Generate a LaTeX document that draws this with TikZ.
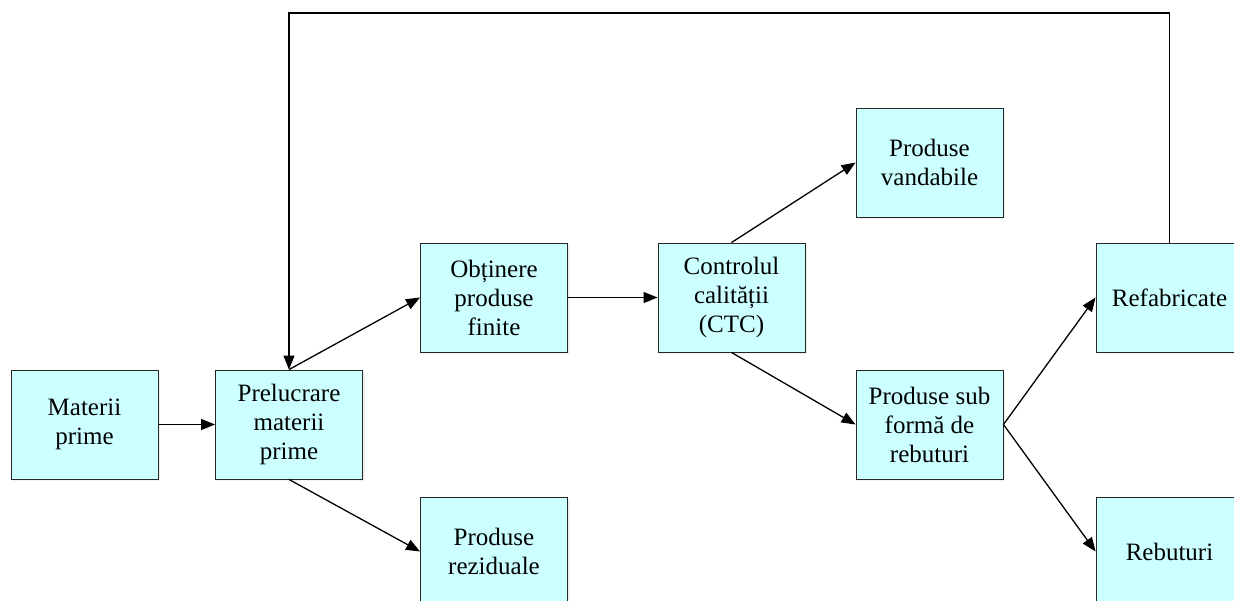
\documentclass[tikz,border=0pt]{standalone}
\usepackage{fontspec}
\setmainfont{Liberation Serif}
\usetikzlibrary{arrows.meta,shadows}
\definecolor{boxfill}{RGB}{204,255,255}
\tikzset{
  box/.style={draw=black!85, line width=0.9pt, fill=boxfill, minimum width=147pt, minimum height=109pt,
    inner sep=0pt, align=center, font=\fontsize{25}{29}\selectfont,
    drop shadow={opacity=0.12, shadow xshift=2pt, shadow yshift=-2pt}},
  arr/.style={line width=1.3pt, -{Triangle[length=14pt,width=11pt]}}
}
\begin{document}
\begin{tikzpicture}[x=1pt,y=-1pt]
\useasboundingbox (0,0) rectangle (1234,600);
\begin{scope}
\clip (0,0) rectangle (1234,600);
\node[box] (mp)  at (84.5,424.5) {Materii\\prime};
\node[box] (pr)  at (289,424.5) {Prelucrare\\materii\\prime};
\node[box] (ob)  at (494,297.5) {Obținere\\produse\\finite};
\node[box] (rez) at (494,551.5) {Produse\\reziduale};
\node[box] (ctc) at (731.5,297.5) {Controlul\\calității\\(CTC)};
\node[box] (va)  at (929.5,162.5) {Produse\\vandabile};
\node[box] (sf)  at (929.5,424.5) {Produse sub\\formă de\\rebuturi};
\node[box] (ref) at (1169.5,297.5) {Refabricate};
\node[box] (reb) at (1169.5,551.5) {Rebuturi};
\coordinate (top) at (0,13);
\draw[arr] (mp.east) -- (pr.west);
\draw[arr] (pr.north) -- (ob.west);
\draw[arr] (pr.south) -- (rez.west);
\draw[arr] (ob.east) -- (ctc.west);
\draw[arr] (ctc.north) -- (va.west);
\draw[arr] (ctc.south) -- (sf.west);
\draw[arr] (sf.east) -- (ref.west);
\draw[arr] (sf.east) -- (reb.west);
\draw[arr] (ref.north) |- (pr.north |- top) -- (pr.north);
\end{scope}
\end{tikzpicture}
\end{document}
